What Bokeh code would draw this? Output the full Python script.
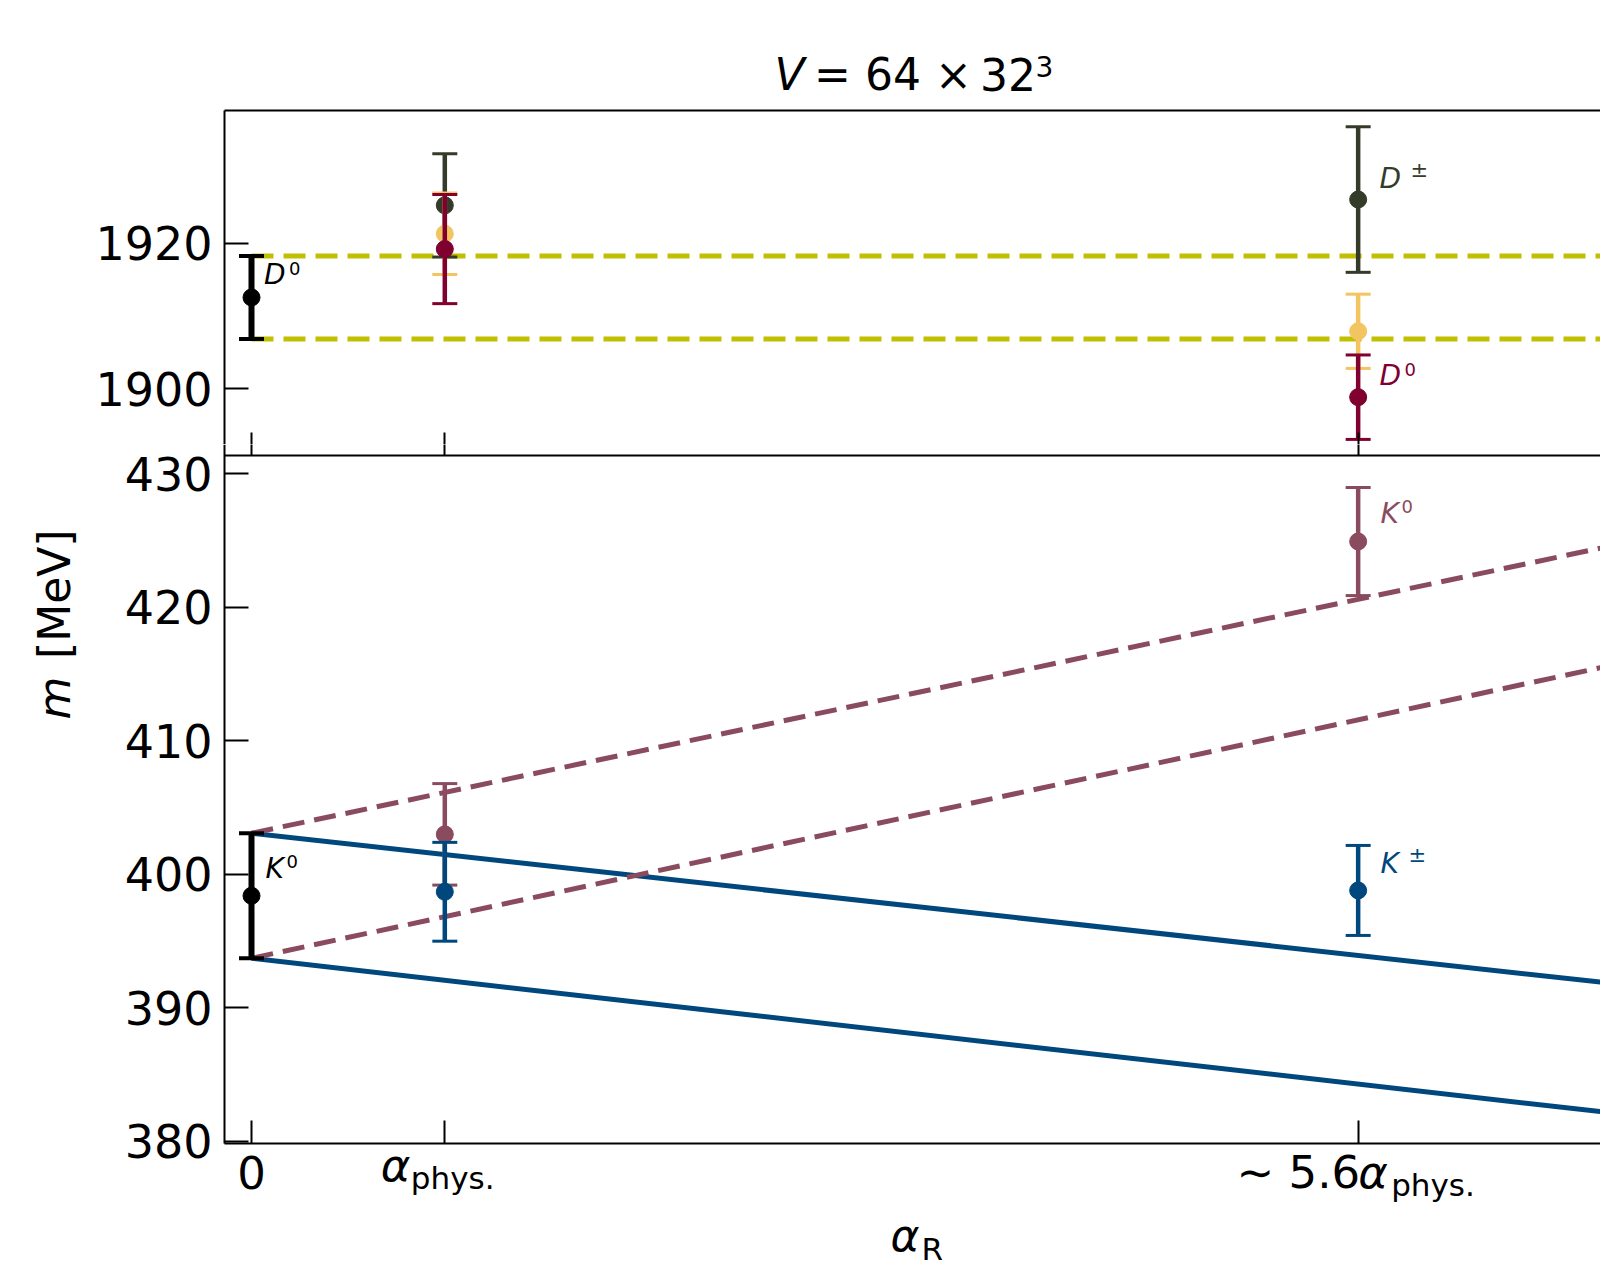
import numpy as np
from bokeh.plotting import figure
from bokeh.models import Range1d, FixedTicker, LinearAxis, Label
from bokeh.layouts import column
from bokeh.embed import file_html
from bokeh.resources import INLINE

FONT = "DejaVu Sans"

# ---------------- data (x in units of alpha_phys) ----------------
x_ticks = [0.0, 1.0, 5.725]
line_x = [0.0, 7.0]

# top panel: D mesons [MeV]
d0_ref_x = [0.0]
d0_ref_val = [1912.55]
d0_ref_err = [5.7]
dpm_x = [1.0, 5.725]
dpm_val = [1925.2, 1926.0]
dpm_err = [7.1, 10.0]
dyel_x = [1.0, 5.725]
dyel_val = [1921.3, 1907.9]
dyel_err = [5.6, 5.1]
d0_x = [1.0, 5.725]
d0_val = [1919.2, 1898.85]
d0_err = [7.5, 5.8]
d_band_hi = [1918.25, 1918.25]
d_band_lo = [1906.85, 1906.85]

# bottom panel: K mesons [MeV]
k0_ref_x = [0.0]
k0_ref_val = [398.4]
k0_ref_err = [4.68]
k0_x = [1.0, 5.725]
k0_val = [403.0, 424.93]
k0_err = [3.8, 4.05]
kpm_x = [1.0, 5.725]
kpm_val = [398.7, 398.8]
kpm_err = [3.7, 3.37]
kpm_line_hi = [403.08, 391.9]
kpm_line_lo = [393.72, 382.2]
k0_line_hi = [403.08, 424.5]
k0_line_lo = [393.72, 415.55]

top_yticks = [1900, 1920]
bot_yticks = [380, 390, 400, 410, 420, 430]

# visible axis limits
X_LIM = (-0.1397, 6.9787)
TOP_LIM = (1890.84, 1938.23)
BOT_LIM = (379.85, 431.37)

# ---------------- colours ----------------
C_BLACK = "#000000"
C_DPM = "#343b29"
C_YEL = "#f2c562"
C_D0 = "#800030"
C_BAND = "#c0bf00"
C_K0 = "#8b4b5f"
C_KPM = "#00477d"

# ---------------- layout (page pixels) ----------------
W = 1600
AX_L = 224           # left axis
AX_T = 110           # top of upper panel
AX_M = 455           # panel separator
AX_B = 1143          # bottom of lower panel
SPLIT = 444          # canvas split between the two figures
H_TOTAL = 1268

SX = (W - AX_L) / (X_LIM[1] - X_LIM[0])
STOP = (AX_M - AX_T) / (TOP_LIM[1] - TOP_LIM[0])
SBOT = (AX_B - AX_M) / (BOT_LIM[1] - BOT_LIM[0])


def dx(px):
    return X_LIM[0] + (px - AX_L) / SX


def ty(py):   # page y -> top data
    return TOP_LIM[0] + (AX_M - py) / STOP


def by(py):   # page y -> bottom data
    return BOT_LIM[0] + (AX_B - py) / SBOT


x_range = (dx(0), dx(W))
top_range = (ty(SPLIT), ty(0))
bot_range = (by(H_TOTAL), by(SPLIT))


def style_axis(a, tick_in, tick_out, labels, line=True):
    a.major_tick_in = tick_in
    a.major_tick_out = tick_out
    a.minor_tick_line_color = None
    a.major_tick_line_width = 2
    a.axis_line_width = 2
    if not line:
        a.axis_line_color = None
    a.major_label_standoff = 12
    if labels:
        a.major_label_text_font = FONT
        a.major_label_text_font_size = "46px"
        a.major_label_text_color = "black"
    else:
        a.major_label_text_font_size = "0px"
        a.major_label_text_color = None
        a.major_label_standoff = 0


def make_fig(height, yr, yticks, ybounds, xfixed):
    p = figure(width=W, height=height, x_range=Range1d(*x_range),
               y_range=Range1d(*yr), output_backend="svg", toolbar_location=None,
               min_border=0, min_border_left=0, min_border_right=0,
               min_border_top=0, min_border_bottom=0)
    p.outline_line_color = None
    p.grid.visible = False
    ya = p.yaxis[0]
    ya.ticker = FixedTicker(ticks=yticks)
    ya.fixed_location = X_LIM[0]
    ya.bounds = ybounds
    style_axis(ya, 24, 0, True)
    xa = p.xaxis[0]
    xa.ticker = FixedTicker(ticks=x_ticks)
    xa.fixed_location = xfixed
    xa.bounds = X_LIM
    return p


def errbar(p, x, y, err, color, bar_w=4.5, cap_w=3, cap=25, msize=17):
    y = np.array(y)
    e = np.array(err)
    p.segment(x, y - e, x, y + e, line_color=color, line_width=bar_w)
    p.scatter(x, y - e, marker="dash", size=cap, line_color=color, line_width=cap_w)
    p.scatter(x, y + e, marker="dash", size=cap, line_color=color, line_width=cap_w)
    p.scatter(x, y, marker="circle", size=msize, fill_color=color, line_color=color, line_width=1)


BASE_CORR = 0.38   # baseline correction (fraction of font size)


def lab(p, sy, x, y, text, size, color="black", style="normal", align="left", off=0, rot=False):
    if rot:
        x = x - BASE_CORR * size / SX
    else:
        y = y + BASE_CORR * size / sy
    p.add_layout(Label(x=x, y=y, text=text, text_font=FONT, text_font_size=f"{size}px",
                       text_color=color, text_font_style=style, text_align=align,
                       text_baseline="alphabetic", x_offset=off,
                       angle=np.pi / 2 if rot else 0))


# ---------------- top panel ----------------
top = make_fig(SPLIT, top_range, top_yticks, (ty(SPLIT), TOP_LIM[1]), TOP_LIM[0])
# lower edge ticks (upper part; axis line drawn by the lower figure)
style_axis(top.xaxis[0], 23, 0, False, line=False)
top_ax = LinearAxis(ticker=FixedTicker(ticks=[]), fixed_location=TOP_LIM[1], bounds=X_LIM)
style_axis(top_ax, 0, 0, False)
top_ax.major_tick_line_color = None
top.add_layout(top_ax, "above")

top.line(line_x, d_band_hi, line_color=C_BAND, line_width=5, line_dash="22 10")
top.line(line_x, d_band_lo, line_color=C_BAND, line_width=5, line_dash="22 10")
errbar(top, d0_ref_x, d0_ref_val, d0_ref_err, C_BLACK, bar_w=6, cap_w=4)
errbar(top, dpm_x, dpm_val, dpm_err, C_DPM)
errbar(top, dyel_x, dyel_val, dyel_err, C_YEL)
errbar(top, d0_x, d0_val, d0_err, C_D0)

lab(top, STOP, 0.065, 1914.2, "D", 28, C_BLACK, "italic")
lab(top, STOP, 0.065, 1915.64, "0", 18, C_BLACK, off=25)
lab(top, STOP, 5.835, 1927.4, "D", 28, C_DPM, "italic")
lab(top, STOP, 5.835, 1928.9, "±", 21, C_DPM, off=31)
lab(top, STOP, 5.835, 1900.3, "D", 28, C_D0, "italic")
lab(top, STOP, 5.835, 1901.74, "0", 18, C_D0, off=25)

# title
lab(top, STOP, dx(774), ty(91), "V", 44, "black", "italic")
lab(top, STOP, dx(813.6), ty(91), "= 64 ×", 44, "black")
lab(top, STOP, dx(979.5), ty(91), "32", 44, "black")
lab(top, STOP, dx(1035), ty(77), "3", 28, "black")

# ---------------- bottom panel ----------------
bot = make_fig(H_TOTAL - SPLIT, bot_range, bot_yticks, (BOT_LIM[0], by(SPLIT)), BOT_LIM[0])
style_axis(bot.xaxis[0], 23, 0, False)
# separator line + lower part of the upper panel's ticks
sep_ax = LinearAxis(ticker=FixedTicker(ticks=x_ticks), fixed_location=BOT_LIM[1], bounds=X_LIM)
style_axis(sep_ax, 0, 23, False)
bot.add_layout(sep_ax, "above")

bot.line(line_x, kpm_line_hi, line_color=C_KPM, line_width=5)
bot.line(line_x, kpm_line_lo, line_color=C_KPM, line_width=5)
bot.line(line_x, k0_line_hi, line_color=C_K0, line_width=5, line_dash="22 10")
bot.line(line_x, k0_line_lo, line_color=C_K0, line_width=5, line_dash="22 10")
errbar(bot, k0_ref_x, k0_ref_val, k0_ref_err, C_BLACK, bar_w=6, cap_w=4)
errbar(bot, k0_x, k0_val, k0_err, C_K0)
errbar(bot, kpm_x, kpm_val, kpm_err, C_KPM)

lab(bot, SBOT, 0.072, 399.67, "K", 28, C_BLACK, "italic")
lab(bot, SBOT, 0.072, 400.49, "0", 18, C_BLACK, off=21)
lab(bot, SBOT, 5.84, 426.2, "K", 28, C_K0, "italic")
lab(bot, SBOT, 5.84, 427.02, "0", 18, C_K0, off=21)
lab(bot, SBOT, 5.84, 400.05, "K", 28, C_KPM, "italic")
lab(bot, SBOT, 5.84, 400.84, "±", 21, C_KPM, off=28)

# x tick labels
lab(bot, SBOT, x_ticks[0], by(1189.3), "0", 45, "black", align="center")
lab(bot, SBOT, x_ticks[1], by(1181.7), "α", 45, "black", "italic", off=-64)
lab(bot, SBOT, x_ticks[1], by(1189.3), "phys.", 31, "black", off=-34)
lab(bot, SBOT, x_ticks[2], by(1189.3), "∼ 5.6", 45, "black", align="right", off=2)
lab(bot, SBOT, x_ticks[2], by(1189.3), "α", 45, "black", "italic")
lab(bot, SBOT, x_ticks[2], by(1196.7), "phys.", 31, "black", off=33)

# axis labels
lab(bot, SBOT, dx(890), by(1251.7), "α", 44, "black", "italic")
lab(bot, SBOT, dx(921), by(1260.7), "R", 31, "black")
lab(bot, SBOT, dx(70.7), by(719), "m", 44, "black", "italic", rot=True)
lab(bot, SBOT, dx(70.7), by(658.5), "[MeV]", 44, "black", rot=True)

layout = column(top, bot, spacing=0)
open("out.html", "w").write(file_html(layout, INLINE))
